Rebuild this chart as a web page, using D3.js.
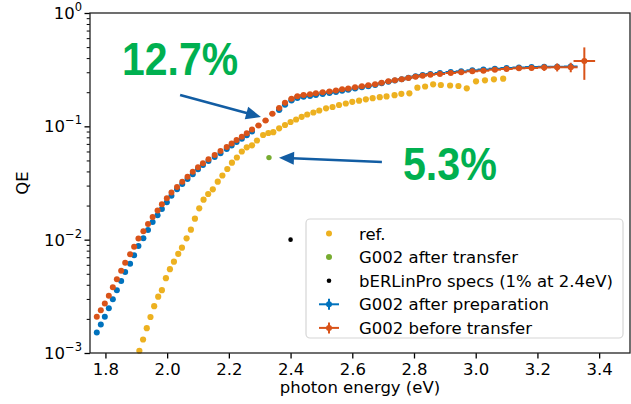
<!DOCTYPE html>
<html>
<head>
<meta charset="utf-8">
<script src="https://cdn.jsdelivr.net/npm/d3@7/dist/d3.min.js"></script>
<style>
  body { margin: 0; background: #fff; }
  text { font-family: "DejaVu Sans", sans-serif; fill: #000; }
</style>
</head>
<body>
<svg id="chart" width="631" height="404"></svg>
<script>
// each row: [photon energy (eV), QE, x error, y error]
var prepData = [ // G002 after preparation
  [1.772,0.00152,0.005,0],[1.785,0.00178,0.005,0],[1.798,0.00209,0.005,0],[1.811,0.00248,0.005,0],
  [1.824,0.00298,0.005,0],[1.837,0.00357,0.005,0],[1.851,0.00432,0.005,0],[1.864,0.00518,0.005,0],
  [1.880,0.00614,0.005,0],[1.893,0.00728,0.005,0],[1.907,0.00879,0.006,0],[1.923,0.01028,0.006,0],
  [1.938,0.01217,0.006,0],[1.953,0.01431,0.006,0],[1.969,0.01640,0.006,0],[1.983,0.01865,0.006,0],
  [1.999,0.02136,0.006,0],[2.014,0.02443,0.006,0],[2.032,0.02781,0.006,0],[2.049,0.03098,0.006,0],
  [2.066,0.03429,0.006,0],[2.083,0.03773,0.006,0],[2.100,0.04176,0.006,0],[2.116,0.04557,0.006,0],
  [2.134,0.04942,0.006,0],[2.154,0.05361,0.006,0],[2.173,0.05781,0.006,0],[2.193,0.06310,0.008,0],
  [2.209,0.06772,0.008,0],[2.225,0.07272,0.008,0],[2.242,0.07775,0.008,0],[2.258,0.08330,0.008,0],
  [2.275,0.09001,0.008,0.002],
  [2.363,0.1393,0.010,0.003],[2.382,0.1552,0.010,0.003],[2.403,0.1690,0.010,0.003],[2.422,0.1778,0.010,0.003],
  [2.442,0.1826,0.011,0.003],[2.463,0.1852,0.011,0.003],[2.482,0.1890,0.011,0.003],[2.504,0.1929,0.011,0.003],
  [2.526,0.1968,0.011,0.003],[2.547,0.2009,0.011,0.003],[2.567,0.2059,0.011,0.003],[2.587,0.2101,0.011,0.003],
  [2.609,0.2157,0.011,0.003],[2.631,0.2210,0.011,0.003],[2.652,0.2260,0.011,0.003],[2.674,0.2316,0.011,0.003],
  [2.695,0.2397,0.011,0.003],[2.717,0.2471,0.011,0.003],[2.738,0.2537,0.011,0.003],[2.760,0.2600,0.013,0.004],
  [2.782,0.2686,0.013,0.004],[2.805,0.2764,0.013,0.004],[2.828,0.2837,0.014,0.004],[2.853,0.2895,0.016,0.004],
  [2.884,0.2955,0.017,0.004],[2.919,0.3016,0.017,0.004],[2.953,0.3059,0.018,0.004],[2.989,0.3122,0.019,0.005],
  [3.025,0.3173,0.019,0.005],[3.062,0.3225,0.020,0.005],[3.100,0.3272,0.020,0.006],[3.140,0.3305,0.021,0.008],
  [3.181,0.3339,0.021,0.010],[3.222,0.3353,0.021,0.012],[3.264,0.3353,0.022,0.014],[3.308,0.3373,0.022,0.016]
];

var beforeData = [ // G002 before transfer
  [1.772,0.00209,0.005,0],[1.785,0.00238,0.005,0],[1.798,0.00274,0.005,0],[1.811,0.00320,0.005,0],
  [1.824,0.00380,0.005,0],[1.837,0.00447,0.005,0],[1.851,0.00532,0.005,0],[1.864,0.00626,0.005,0],
  [1.880,0.00743,0.005,0],[1.893,0.00867,0.005,0],[1.907,0.01024,0.006,0],[1.923,0.01185,0.006,0],
  [1.938,0.01374,0.006,0],[1.953,0.01585,0.006,0],[1.969,0.01809,0.006,0],[1.983,0.02056,0.006,0],
  [1.999,0.02317,0.006,0],[2.014,0.02607,0.006,0],[2.032,0.02915,0.006,0],[2.049,0.03247,0.006,0],
  [2.066,0.03593,0.006,0],[2.083,0.03978,0.006,0],[2.100,0.04350,0.006,0],[2.116,0.04719,0.006,0],
  [2.134,0.05117,0.006,0],[2.154,0.05585,0.006,0],[2.173,0.06058,0.006,0],[2.193,0.06571,0.008,0],
  [2.209,0.07056,0.008,0],[2.225,0.07575,0.008,0],[2.242,0.08101,0.008,0],[2.258,0.08680,0.008,0],
  [2.275,0.09376,0.009,0.002],[2.296,0.1017,0.010,0.003],[2.319,0.1125,0.010,0.003],[2.341,0.1293,0.010,0.003],
  [2.363,0.1451,0.010,0.003],[2.382,0.1616,0.010,0.003],[2.403,0.1753,0.010,0.003],[2.422,0.1841,0.010,0.003],
  [2.442,0.1890,0.011,0.003],[2.463,0.1917,0.011,0.003],[2.482,0.1956,0.011,0.003],[2.504,0.1996,0.011,0.003],
  [2.526,0.2029,0.011,0.003],[2.547,0.2071,0.011,0.003],[2.567,0.2122,0.011,0.003],[2.587,0.2157,0.011,0.003],
  [2.609,0.2210,0.011,0.003],[2.631,0.2256,0.011,0.003],[2.652,0.2301,0.011,0.003],[2.674,0.2348,0.011,0.003],
  [2.695,0.2427,0.011,0.003],[2.717,0.2496,0.011,0.003],[2.738,0.2548,0.011,0.003],[2.760,0.2600,0.013,0.004],
  [2.782,0.2675,0.013,0.004],[2.805,0.2741,0.013,0.004],[2.828,0.2797,0.014,0.004],[2.853,0.2854,0.016,0.004],
  [2.884,0.2895,0.017,0.004],[2.919,0.2955,0.017,0.004],[2.953,0.2998,0.018,0.004],[2.989,0.3059,0.019,0.005],
  [3.025,0.3097,0.019,0.005],[3.062,0.3160,0.020,0.005],[3.100,0.3206,0.020,0.006],[3.140,0.3252,0.021,0.010],
  [3.181,0.3272,0.021,0.015],[3.222,0.3305,0.021,0.022],[3.264,0.3319,0.022,0.027],[3.308,0.3319,0.022,0.032],
  [3.352,0.3771,0.035,0.12]
];

var refE = [1.910,1.922,1.934,1.946,1.958,1.971,1.983,1.996,2.009,2.022,2.036,2.048,2.063,2.077,2.090,2.104,
  2.118,2.133,2.148,2.164,2.179,2.195,2.210,2.226,2.242,2.258,2.275,2.291,2.311,2.328,2.344,2.363,2.382,2.400,
  2.418,2.436,2.454,2.474,2.493,2.515,2.536,2.557,2.579,2.600,2.622,2.644,2.666,2.689,2.711,2.737,2.759,2.785,
  2.811,2.836,2.862,2.887,2.917,2.944,2.971,3.001,3.030,3.059,3.089];
var refQE = [0.001047,0.001315,0.001655,0.002078,0.002587,0.003139,0.003581,0.004569,0.005487,0.006391,0.007502,
  0.008492,0.01028,0.01224,0.01531,0.01891,0.02252,0.02529,0.02781,0.03247,0.03682,0.04202,0.04776,0.05308,
  0.05997,0.06531,0.06803,0.07499,0.08382,0.08729,0.08873,0.09607,0.1027,0.1092,0.1149,0.1214,0.1272,0.1324,
  0.1379,0.1442,0.1481,0.1542,0.1590,0.1646,0.1683,0.1732,0.1771,0.1807,0.1837,0.1882,0.1936,0.1956,0.2193,
  0.2246,0.2348,0.2316,0.2293,0.2270,0.2166,0.2496,0.2548,0.2600,0.2632];

var transferE = [2.33], transferQE = [0.053];   // G002 after transfer
var specE = [2.4], specQE = [0.01];             // bERLinPro specs

var xTicks = [1.8, 2.0, 2.2, 2.4, 2.6, 2.8, 3.0, 3.2, 3.4];
var yTicks = [1e-3, 1e-2, 1e-1, 1];
var yExponents = ["\u22123", "\u22122", "\u22121", "0"];
var legendLabels = ["ref.", "G002 after transfer", "bERLinPro specs (1% at 2.4eV)",
  "G002 after preparation", "G002 before transfer"];

// callouts: text anchor and arrow tail/tip in data units
var callouts = [
  {text: "12.7%", e: 1.854, q: 0.2837, from: [2.042, 0.189], to: [2.304, 0.1209]},
  {text: "5.3%", e: 2.764, q: 0.0336, from: [2.696, 0.0484], to: [2.3625, 0.0529]}
];

var colors = {pref: "#0072BD", before: "#D95319", ref: "#EDB120", transfer: "#77AC30", spec: "#000000"};

(function(){
var svg = d3.select("#chart");
var pl = 90, pr = 630, pt = 13, pb = 353;

var x = d3.scaleLinear().domain([1.75, 3.5]).range([pl, pr]);
var y = d3.scaleLog().domain([1e-3, 1]).range([pb, pt]);

// minor y ticks
var minor = [];
[1e-3, 1e-2, 1e-1].forEach(function(dec){
  d3.range(2, 10).forEach(function(k){ minor.push(dec * k); });
});

svg.append("g")
  .attr("transform", "translate(" + pl + ",0)")
  .call(d3.axisLeft(y).tickValues(minor).tickSize(3.3).tickSizeOuter(0).tickFormat(""))
  .call(function(g){ g.select(".domain").remove(); })
  .selectAll("line").attr("stroke", "#000").attr("stroke-width", 1);

var yAxis = svg.append("g")
  .attr("transform", "translate(" + pl + ",0)")
  .call(d3.axisLeft(y).tickValues(yTicks).tickSize(5.5).tickSizeOuter(0).tickFormat(""));
yAxis.select(".domain").remove();
yAxis.selectAll("line").attr("stroke", "#000").attr("stroke-width", 1.3);

var yLab = svg.append("g").selectAll("text").data(yTicks).enter().append("text")
  .attr("x", 82)
  .attr("y", function(d){ return y(d) + 6; })
  .attr("text-anchor", "end")
  .style("font-size", "16.5px");
yLab.append("tspan").text("10");
yLab.append("tspan")
  .attr("dy", -8)
  .style("font-size", "11.5px")
  .text(function(d, i){ return yExponents[i]; });

var xAxis = svg.append("g")
  .attr("transform", "translate(0," + pb + ")")
  .call(d3.axisBottom(x).tickValues(xTicks).tickSize(5.5).tickSizeOuter(0).tickPadding(5)
    .tickFormat(d3.format(".1f")));
xAxis.select(".domain").remove();
xAxis.selectAll("line").attr("stroke", "#000").attr("stroke-width", 1.3);
xAxis.selectAll("text")
  .attr("fill", "#000")
  .style("font-family", "DejaVu Sans")
  .style("font-size", "16.5px");

svg.append("text")
  .attr("x", (pl + pr) / 2)
  .attr("y", 393)
  .attr("text-anchor", "middle")
  .style("font-size", "16.5px")
  .text("photon energy (eV)");

svg.append("text")
  .attr("transform", "translate(28," + ((pt + pb) / 2) + ") rotate(-90)")
  .attr("text-anchor", "middle")
  .style("font-size", "16.5px")
  .text("QE");

var plot = svg.append("g");

function errorbars(data, color){
  var g = plot.append("g").attr("stroke", color).attr("stroke-width", 2);
  g.selectAll("line.h").data(data).enter().append("line")
    .attr("x1", function(d){ return x(d[0] - d[2]); })
    .attr("x2", function(d){ return x(d[0] + d[2]); })
    .attr("y1", function(d){ return y(d[1]); })
    .attr("y2", function(d){ return y(d[1]); });
  g.selectAll("line.v").data(data.filter(function(d){ return d[3] > 0; })).enter().append("line")
    .attr("x1", function(d){ return x(d[0]); })
    .attr("x2", function(d){ return x(d[0]); })
    .attr("y1", function(d){ return y(d[1] - d[3]); })
    .attr("y2", function(d){ return y(d[1] + d[3]); });
  plot.append("g").selectAll("circle").data(data).enter().append("circle")
    .attr("cx", function(d){ return x(d[0]); })
    .attr("cy", function(d){ return y(d[1]); })
    .attr("r", 3)
    .attr("fill", color);
}

function dots(es, qs, color, r){
  plot.append("g").selectAll("circle").data(es).enter().append("circle")
    .attr("cx", function(d){ return x(d); })
    .attr("cy", function(d, i){ return y(qs[i]); })
    .attr("r", r)
    .attr("fill", color);
}

errorbars(prepData, colors.pref);
errorbars(beforeData, colors.before);
dots(refE, refQE, colors.ref, 3.1);
dots(transferE, transferQE, colors.transfer, 2.7);
dots(specE, specQE, colors.spec, 2.3);

// frame
svg.append("rect")
  .attr("x", pl).attr("y", pt)
  .attr("width", pr - pl).attr("height", pb - pt)
  .attr("fill", "none").attr("stroke", "#222").attr("stroke-width", 1.3);

// legend
var lg = svg.append("g");
lg.append("rect")
  .attr("x", 306).attr("y", 219).attr("width", 317).attr("height", 119).attr("rx", 4)
  .attr("fill", "#fff").attr("fill-opacity", 0.8)
  .attr("stroke", "#d6d6d6").attr("stroke-width", 1.2);

var legendColors = [colors.ref, colors.transfer, colors.spec, colors.pref, colors.before];
legendLabels.forEach(function(label, i){
  var cy = 233.5 + i * 23.6;
  if (i >= 3) {
    lg.append("line").attr("x1", 319).attr("x2", 339).attr("y1", cy).attr("y2", cy)
      .attr("stroke", legendColors[i]).attr("stroke-width", 2);
    lg.append("line").attr("x1", 329).attr("x2", 329).attr("y1", cy - 5.5).attr("y2", cy + 5.5)
      .attr("stroke", legendColors[i]).attr("stroke-width", 2);
  }
  lg.append("circle").attr("cx", 329).attr("cy", cy).attr("r", i === 2 ? 2.3 : 3)
    .attr("fill", legendColors[i]);
  lg.append("text").attr("x", 359).attr("y", cy + 6)
    .style("font-size", "16.5px")
    .text(label);
});

// callouts
var arrowColor = "#125da3";
callouts.forEach(function(c){
  svg.append("text")
    .attr("x", x(c.e)).attr("y", y(c.q))
    .attr("textLength", c.text.length === 5 ? 116 : 94)
    .attr("lengthAdjust", "spacingAndGlyphs")
    .style("font-family", "Liberation Sans, Arial, sans-serif")
    .style("font-weight", "bold")
    .style("font-size", "46px")
    .style("fill", "#00B050")
    .text(c.text);

  var x0 = x(c.from[0]), y0 = y(c.from[1]), x1 = x(c.to[0]), y1 = y(c.to[1]);
  var dx = x1 - x0, dy = y1 - y0, len = Math.sqrt(dx * dx + dy * dy);
  var ux = dx / len, uy = dy / len, hl = 15, hw = 6.5;
  var bx = x1 - ux * hl, by = y1 - uy * hl;
  svg.append("line")
    .attr("x1", x0).attr("y1", y0).attr("x2", bx + ux * 2).attr("y2", by + uy * 2)
    .attr("stroke", arrowColor).attr("stroke-width", 2.6);
  svg.append("path")
    .attr("d", "M" + x1 + "," + y1 + "L" + (bx - uy * hw) + "," + (by + ux * hw) +
      "L" + (bx + uy * hw) + "," + (by - ux * hw) + "Z")
    .attr("fill", arrowColor);
});
})();
</script>
</body>
</html>
